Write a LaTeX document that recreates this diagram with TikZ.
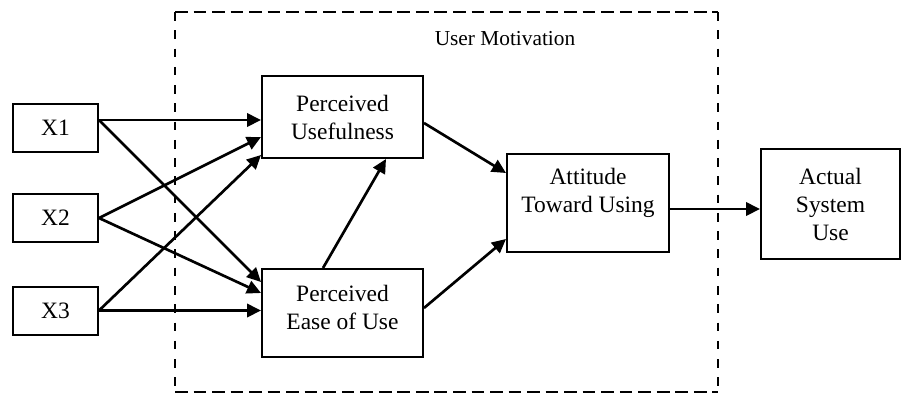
\documentclass[tikz,border=0pt]{standalone}
\usepackage{fontspec}
\setmainfont{Liberation Serif}
\usetikzlibrary{arrows.meta,calc}

\begin{document}
\begin{tikzpicture}[x=0.75pt,y=-0.75pt,
  txt/.style={font=\fontsize{17.6}{21}\selectfont, align=center},
  box/.style={draw, line width=1.5pt, rectangle, inner sep=0pt, txt},
  link/.style={line width=2pt, -{Triangle[length=10.5pt,width=10pt]}},
  hdash/.style={line width=1.8pt, dash pattern=on 9.5pt off 4.4pt},
  vdash/.style={line width=1.8pt, dash pattern=on 6.5pt off 7.2pt}]
\useasboundingbox (0,0) rectangle (902,394);

% external variables
\node[box, minimum width=63.75pt, minimum height=36pt] (x1) at (55.5,128) {X1};
\node[box, minimum width=63.75pt, minimum height=36pt] (x2) at (55.5,218) {X2};
\node[box, minimum width=63.75pt, minimum height=36pt] (x3) at (55.5,310.5) {X3};

% user motivation constructs
\node[box, minimum width=120.75pt, minimum height=61.5pt] (pu) at (342.5,117) {Perceived\\Usefulness};
\node[box, minimum width=120.75pt, minimum height=66pt,
  label={[txt, yshift=4.1pt]center:Perceived\\Ease of Use}] (peu) at (342.5,313) {};
\node[box, minimum width=121.5pt, minimum height=73.5pt,
  label={[txt, yshift=7.9pt]center:Attitude\\Toward Using}] (atu) at (588,203) {};
\node[box, minimum width=104.25pt, minimum height=82.5pt] (asu) at (830.5,204) {Actual\\System\\Use};

% dashed group frame
\draw[hdash] (175,12) -- (718,12);
\draw[hdash] (175,392) -- (718,392);
\draw[vdash] (175,12) -- (175,392);
\draw[vdash] (718,12) -- (718,392);
\node[font=\fontsize{16}{19}\selectfont] (um) at (505,39) {User Motivation};

% connectors
\coordinate (x1o) at ($(x1.east)+(0,-8)$);
\draw[link] (x1o) -- (x1o -| pu.west);
\draw[link] (x1o) -- ($(peu.west)+(0,-31)$);
\draw[link] (x2.east) -- ($(pu.west)+(0,20)$);
\draw[link] (x2.east) -- ($(peu.west)+(0,-20)$);
\draw[link] (x3.east) -- ($(pu.west)+(0,38)$);
\draw[link] (x3.east) -- (x3.east -| peu.west);

\draw[link] ($(peu.north)+(-19.5,0)$) -- ($(pu.south)+(43.5,0)$);
\draw[link] ($(pu.east)+(0,6)$) -- ($(atu.west)+(0,-30)$);
\draw[link] ($(peu.east)+(0,-5)$) -- ($(atu.west)+(0,36)$);

\coordinate (atuo) at ($(atu.east)+(0,6)$);
\draw[link] (atuo) -- (atuo -| asu.west);
\end{tikzpicture}
\end{document}
